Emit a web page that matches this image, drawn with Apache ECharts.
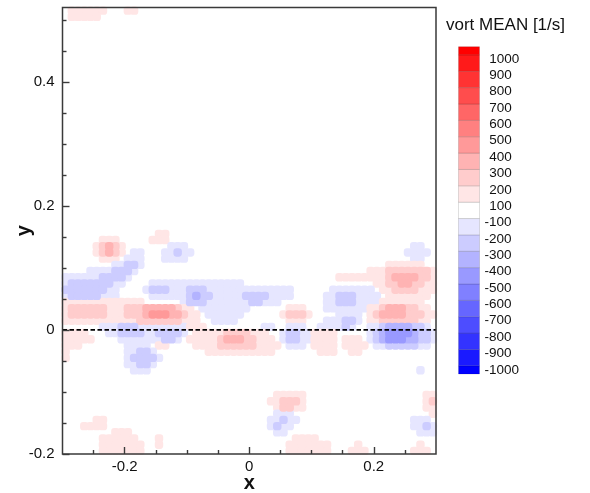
<!DOCTYPE html>
<html>
<head>
<meta charset="utf-8">
<title>vort MEAN</title>
<script src="https://cdn.jsdelivr.net/npm/echarts@6/dist/echarts.min.js"></script>
<style>
  html, body { margin: 0; padding: 0; background: #fff; }
  #chart { width: 590px; height: 493px; }
</style>
</head>
<body>
<div id="chart"></div>
<script>
// contour level boundaries of the colour bar, bottom to top
const levelBounds = [-1000, -900, -800, -700, -600, -500, -400, -300, -200, -100,
  100, 200, 300, 400, 500, 600, 700, 800, 900, 1000];
// one colour per band: below -1000 ... between -100 and 100 ... above 1000
const bandColors = ['#0000ff', '#1a1aff', '#3333ff', '#4d4dff', '#6666ff', '#8080ff', '#9999ff',
  '#b3b3ff', '#ccccff', '#e6e6ff', '#ffffff', '#ffe6e6', '#ffcccc', '#ffb3b3', '#ff9999',
  '#ff8080', '#ff6666', '#ff4d4d', '#ff3333', '#ff1a1a', '#ff0000'];

// field sampled on a 0.01 x 0.01 grid, cell (col, row) starts at x=-0.3+col*0.01, y=-0.2+row*0.01
const cellSize = 0.01;
const fieldX0 = -0.3;
const fieldY0 = -0.2;
// vorticity read for each symbol (cells not listed lie between -100 and 100)
const levelValue = { '1': 150, '2': 250, '3': 350, '4': 450, 'a': -150, 'b': -250, 'c': -350, 'd': -450 };
// [row, first col, symbols]
const fieldRuns = [
  [71, 1, '111111'], [71, 10, '11'],
  [70, 1, '11111'],
  [35, 15, '11'],
  [34, 6, '111'], [34, 14, '111'],
  [33, 5, '12321'], [33, 17, 'aaa'], [33, 56, 'aa'],
  [32, 5, '12321'], [32, 11, 'aa'], [32, 16, 'aabaa'], [32, 55, 'aaaa'],
  [31, 6, '111'], [31, 10, 'aaa'], [31, 16, 'aaaa'], [31, 56, 'aa'],
  [30, 8, 'aabba'], [30, 52, '111111'],
  [29, 4, 'aaaabbba'], [29, 49, '11122222221'],
  [28, 0, 'aaaaaabbbba'], [28, 44, '1111111123333221'],
  [27, 0, 'abbbbbbbaa'], [27, 14, 'aaaaaaaaaaaaaaa'], [27, 50, '1122332211'],
  [26, 0, 'bbbbbbbaa'], [26, 13, 'abbbaaabbbaaaaaaaaaaaaaa'], [26, 43, 'aaaaaaa'], [26, 51, '112222111'],
  [25, 0, 'abbbbbaaa'], [25, 14, 'aaaaaabcbbaaaaabbbbaaaa'], [25, 42, 'aabbbaaaa'], [25, 52, '1111111'],
  [24, 0, '1111111111111'], [24, 19, 'abbbaaaaaaabbaaa'], [24, 42, 'aabbbaaaa'], [24, 51, '1111111'],
  [23, 0, '122222211122233333211'], [23, 22, 'aaaaaaaa'], [23, 36, '111'], [23, 42, 'aaaaaaa'], [23, 49, '1123332211'],
  [22, 0, '1222222111222344433211'], [22, 23, 'aaaaaa'], [22, 35, '12221'], [22, 44, 'aaaa'], [22, 49, '12333322211'],
  [21, 0, '1111111111112222222111'], [21, 24, 'aaaa'], [21, 36, '111'], [21, 42, 'aaabba'], [21, 49, '1122222211'],
  [20, 6, 'aaabbbaaaaaaaa'], [20, 20, '111'], [20, 32, 'aa'], [20, 36, 'aaa'], [20, 41, 'aaaaba'], [20, 49, 'aabccccbba'],
  [19, 0, '1111'], [19, 7, 'aabbbbaabbbba'], [19, 21, '111112222111'], [19, 35, 'abbaa'], [19, 40, '1111'], [19, 49, 'abcddddcbba'],
  [18, 0, '11111'], [18, 9, 'aaaaaaabba'], [18, 20, '11111233322111'], [18, 35, 'abbaa'], [18, 40, '1111'], [18, 45, '111'], [18, 49, 'abcdddccbba'],
  [17, 0, '111'], [17, 10, 'aaaa'], [17, 15, '11'], [17, 21, '11112222221111'], [17, 36, 'aaa'], [17, 40, '1111'], [17, 45, '1111'], [17, 50, 'aabbbbbaa'],
  [16, 0, '1'], [16, 10, 'aabba'], [16, 23, '11111111111'], [16, 41, '111'], [16, 46, '11'],
  [15, 0, '1'], [15, 10, 'abbbba'],
  [14, 10, 'aabba'],
  [13, 11, 'aaa'], [13, 57, 'a'],
  [9, 34, '11111'], [9, 58, '11'],
  [8, 33, '112221'], [8, 58, '12'],
  [7, 34, '12211'], [7, 58, '11'],
  [6, 34, 'aaa'], [6, 59, '1'],
  [5, 5, '11'], [5, 33, 'aabaa'], [5, 56, 'aaa'],
  [4, 3, '1111'], [4, 33, 'abaa'], [4, 56, 'aaba'],
  [3, 8, '111'], [3, 34, 'aa'], [3, 57, 'aaa'],
  [2, 6, '111111'], [2, 15, '1'], [2, 37, '1111'],
  [1, 6, '1111111'], [1, 15, '1'], [1, 36, '1111111'], [1, 47, '1'], [1, 57, '1'],
  [0, 6, '1111111'], [0, 36, '1111111'], [0, 46, '111'], [0, 56, '111']
];

// axes
const xRange = [-0.3, 0.3];
const yRange = [-0.2, 0.52];
const xTickLabels = [-0.2, 0, 0.2];
const xMinorTicks = [-0.25, -0.15, -0.1, -0.05, 0.05, 0.1, 0.15, 0.25];
const yTickLabels = [-0.2, 0, 0.2, 0.4];
const yMinorTicks = [-0.15, -0.1, -0.05, 0.05, 0.1, 0.15, 0.25, 0.3, 0.35, 0.45, 0.5];
// dashed line along y = 0
const zeroLineX = [-0.3, 0.3];
const zeroLineY = [0, 0];

const font = 'Liberation Sans, Arial, Helvetica, sans-serif';
const frameColor = '#3a3a3a';
const textColor = '#111';
const majorLen = 7;
const minorLen = 4;

const fieldData = [];
fieldRuns.forEach(([row, col, codes]) => {
  codes.split('').forEach((c, k) => {
    fieldData.push([fieldX0 + (col + k) * cellSize, fieldY0 + row * cellSize, levelValue[c]]);
  });
});
// weaker levels first so the stronger cores sit on top
fieldData.sort((a, b) => Math.abs(a[2]) - Math.abs(b[2]));

const pieces = bandColors.map((color, k) => {
  const p = { color };
  if (k > 0) p.gte = levelBounds[k - 1];
  if (k < levelBounds.length) p.lt = levelBounds[k];
  return p;
});

function tickText(v) {
  return Math.abs(v) < 1e-9 ? '0' : v.toFixed(1);
}

function renderCell(params, api) {
  const x = api.value(0);
  const y = api.value(1);
  const p0 = api.coord([x, y + cellSize]);
  const p1 = api.coord([x + cellSize, y]);
  const w = p1[0] - p0[0];
  const h = p1[1] - p0[1];
  const ex = w * 0.18;
  const ey = h * 0.18;
  return {
    type: 'rect',
    shape: { x: p0[0] - ex, y: p0[1] - ey, width: w + 2 * ex, height: h + 2 * ey, r: Math.min(w, h) * 0.5 },
    style: { fill: api.visual('color') }
  };
}

function renderBand(params, api) {
  const k = api.value(0);
  const lo = Math.max(k - 0.5, 0);
  const hi = Math.min(k + 0.5, levelBounds.length);
  const p0 = api.coord([0, hi]);
  const p1 = api.coord([1, lo]);
  return {
    type: 'rect',
    shape: { x: p0[0], y: p0[1], width: p1[0] - p0[0], height: p1[1] - p0[1] },
    style: { fill: bandColors[k], stroke: 'rgba(0,0,0,0.18)', lineWidth: 0.7 }
  };
}

// ticks point into the plot: each tick axis sits inside the frame by its tick length
const noLine = { show: false, onZero: false };
function tickAxis(dim, values, len, withLabels) {
  const ax = {
    gridIndex: 0, type: 'value', z: 10,
    min: dim === 'x' ? xRange[0] : yRange[0],
    max: dim === 'x' ? xRange[1] : yRange[1],
    position: dim === 'x' ? 'bottom' : 'left',
    offset: -len,
    axisLine: noLine, splitLine: { show: false },
    axisTick: { customValues: values, inside: false, length: len, lineStyle: { color: frameColor, width: 1.4 } },
    axisLabel: { show: false }
  };
  if (withLabels) {
    ax.axisLabel = {
      customValues: values, fontSize: 15, color: textColor, formatter: tickText,
      margin: dim === 'x' ? 5 + len : 8 + len
    };
    ax.name = dim;
    ax.nameLocation = 'middle';
    ax.nameMoveOverlap = false;
    ax.nameGap = dim === 'x' ? 19 + len : 28 + len;
    ax.nameTextStyle = { fontSize: 20, fontWeight: 'bold', color: textColor };
  }
  return ax;
}

const chart = echarts.init(document.getElementById('chart'));
chart.setOption({
  animation: false,
  backgroundColor: '#fff',
  textStyle: { fontFamily: font },
  title: {
    text: 'vort MEAN [1/s]', left: 446, top: 17, padding: 0,
    textStyle: { fontFamily: font, fontSize: 17, fontWeight: 'normal', color: textColor }
  },
  grid: [
    { left: 62.5, top: 7.5, width: 373.5, height: 446.5, show: true, z: 10, outerBoundsMode: 'none',
      containLabel: false, borderColor: frameColor, borderWidth: 1.5, backgroundColor: 'transparent' },
    { left: 458.5, top: 46.7, width: 21, height: 327.3, outerBoundsMode: 'none', containLabel: false }
  ],
  visualMap: { type: 'piecewise', show: false, dimension: 2, seriesIndex: 0, pieces },
  xAxis: [
    tickAxis('x', xTickLabels, majorLen, true),
    tickAxis('x', xMinorTicks, minorLen, false),
    { gridIndex: 1, type: 'value', min: 0, max: 1, show: false }
  ],
  yAxis: [
    tickAxis('y', yTickLabels, majorLen, true),
    tickAxis('y', yMinorTicks, minorLen, false),
    { gridIndex: 1, type: 'value', min: 0, max: levelBounds.length, position: 'right',
      axisLine: noLine, axisTick: { show: false }, splitLine: { show: false },
      axisLabel: {
        customValues: levelBounds.map((_, k) => k + 0.5),
        margin: 5,
        formatter: v => {
          const lv = levelBounds[Math.round(v - 0.5)];
          return lv < 0 ? '{n|' + lv + '}' : '{p|' + lv + '}';
        },
        rich: {
          n: { fontFamily: font, fontSize: 13.5, color: textColor, padding: [8, 0, 0, 0] },
          p: { fontFamily: font, fontSize: 13.5, color: textColor, padding: [8, 0, 0, 4.7] }
        }
      } }
  ],
  series: [
    { type: 'custom', xAxisIndex: 0, yAxisIndex: 0, data: fieldData, renderItem: renderCell,
      encode: { x: 0, y: 1 }, z: 1, silent: true },
    { type: 'line', xAxisIndex: 0, yAxisIndex: 0, data: zeroLineX.map((x, i) => [x, zeroLineY[i]]),
      symbol: 'none', lineStyle: { color: '#000', width: 1.7, type: [4.5, 2.5] }, z: 3, silent: true },
    { type: 'custom', xAxisIndex: 2, yAxisIndex: 2, data: bandColors.map((c, k) => [k]),
      renderItem: renderBand, encode: { x: -1, y: 0 }, silent: true }
  ]
});
</script>
</body>
</html>
